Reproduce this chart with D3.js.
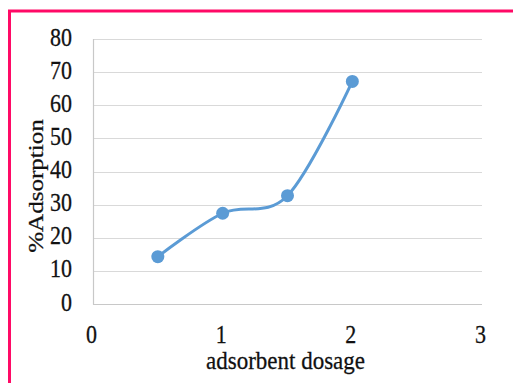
<!DOCTYPE html>
<html>
<head>
<meta charset="utf-8">
<script src="https://cdn.jsdelivr.net/npm/d3@7"></script>
<style>
  html, body { margin: 0; padding: 0; background: #fff; }
  svg { display: block; }
  text { font-family: "Liberation Serif", "Times New Roman", serif; fill: #111; stroke: #111; stroke-width: 0.25; }
</style>
</head>
<body>
<svg id="chart" width="513" height="383"></svg>
<script>
// Adsorbent dosage vs. % adsorption
const dosage = [0.5, 1, 1.5, 2];
const adsorption = [14.3, 27.4, 32.7, 67.2];
const xTicks = [0, 1, 2, 3];
const yTicks = [0, 10, 20, 30, 40, 50, 60, 70, 80];
const xTitle = "adsorbent dosage";
const yTitle = "%Adsorption";

const svg = d3.select("#chart");
const plotLeft = 93, plotRight = 482, plotTop = 39, plotBottom = 304;
const stretch = 1.14;   // text is drawn slightly tall
const fontSize = 22;

const x = d3.scaleLinear().domain([0, 3]).range([plotLeft, plotRight]);
const y = d3.scaleLinear().domain([0, 80]).range([plotBottom, plotTop]);

// frame
svg.append("rect")
  .attr("x", 9.5).attr("y", 11)
  .attr("width", 520).attr("height", 400)
  .attr("fill", "none")
  .attr("stroke", "#ff0a66")
  .attr("stroke-width", 3);

// horizontal gridlines
svg.append("g")
  .selectAll("line")
  .data(yTicks)
  .join("line")
  .attr("x1", plotLeft).attr("x2", plotRight)
  .attr("y1", d => Math.round(y(d)) + 0.5)
  .attr("y2", d => Math.round(y(d)) + 0.5)
  .attr("stroke", d => d === 0 ? "#c8c8c8" : "#d9d9d9")
  .attr("stroke-width", 1.2);

// vertical axis line
svg.append("line")
  .attr("x1", plotLeft + 0.5).attr("x2", plotLeft + 0.5)
  .attr("y1", plotTop).attr("y2", plotBottom + 0.5)
  .attr("stroke", "#c8c8c8").attr("stroke-width", 1.2);

// y tick labels
svg.append("g")
  .selectAll("text")
  .data(yTicks)
  .join("text")
  .attr("transform", d => `translate(72,${y(d) - 2}) scale(1,${stretch})`)
  .attr("text-anchor", "end")
  .attr("dominant-baseline", "central")
  .attr("font-size", fontSize)
  .text(d => d);

// x tick labels
svg.append("g")
  .selectAll("text")
  .data(xTicks)
  .join("text")
  .attr("transform", d => `translate(${x(d) - 1.5},${334}) scale(1,${stretch})`)
  .attr("text-anchor", "middle")
  .attr("dominant-baseline", "central")
  .attr("font-size", fontSize)
  .text(d => d);

// axis titles
svg.append("text")
  .attr("transform", `translate(285.5,369) scale(1,${stretch})`)
  .attr("text-anchor", "middle")
  .attr("font-size", 23)
  .text(xTitle);

svg.append("text")
  .attr("transform", `translate(43,186) scale(1,${stretch}) rotate(-90)`)
  .attr("text-anchor", "middle")
  .attr("font-size", fontSize)
  .text(yTitle);

// smoothed series line
const pts = dosage.map((d, i) => [d, adsorption[i]]);
const line = d3.line()
  .x(d => x(d[0]))
  .y(d => y(d[1]))
  .curve(d3.curveCardinal.tension(0));

svg.append("path")
  .datum(pts)
  .attr("d", line)
  .attr("fill", "none")
  .attr("stroke", "#5b9bd5")
  .attr("stroke-width", 3)
  .attr("stroke-linecap", "round");

// markers
svg.append("g")
  .selectAll("circle")
  .data(pts)
  .join("circle")
  .attr("cx", d => x(d[0]))
  .attr("cy", d => y(d[1]))
  .attr("r", 6.5)
  .attr("fill", "#5b9bd5");
</script>
</body>
</html>
